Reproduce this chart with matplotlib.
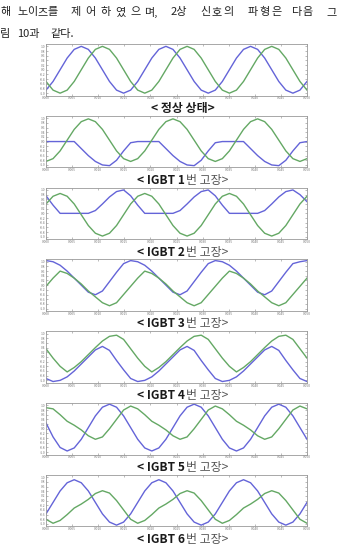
import numpy as np
import matplotlib
matplotlib.use("Agg")
import matplotlib.pyplot as plt

plt.rcParams['font.family'] = ['Noto Sans CJK KR', 'DejaVu Sans']

# ---------------- data ----------------
# sampling instants (s) across the 0 .. 0.05 s window
time_s = np.linspace(0.0, 0.05, 38)

# normal state
normal_a = [-0.87, -0.5, 0, 0.5, 0.87, 1, 0.87, 0.5, 0, -0.5, -0.87, -1,
            -0.87, -0.5, 0, 0.5, 0.87, 1, 0.87, 0.5, 0, -0.5, -0.87, -1,
            -0.87, -0.5, 0, 0.5, 0.87, 1, 0.87, 0.5, 0, -0.5, -0.87, -1,
            -0.87, -0.5]
normal_b = [-0.5, -0.87, -1, -0.87, -0.5, 0, 0.5, 0.87, 1, 0.87, 0.5, 0,
            -0.5, -0.87, -1, -0.87, -0.5, 0, 0.5, 0.87, 1, 0.87, 0.5, 0,
            -0.5, -0.87, -1, -0.87, -0.5, 0, 0.5, 0.87, 1, 0.87, 0.5, 0,
            -0.5, -0.87]
# IGBT 1 fault
igbt1_a = [0, 0, 0, 0, 0, -0.3, -0.6, -0.85, -1.0, -1.03, -0.8, -0.4,
           -0.05, 0, 0, 0, 0, -0.3, -0.6, -0.85, -1.0, -1.03, -0.8, -0.4,
           -0.05, 0, 0, 0, 0, -0.3, -0.6, -0.85, -1.0, -1.03, -0.8, -0.4,
           -0.05, 0]
igbt1_b = [-0.85, -0.73, -0.40, 0.06, 0.52, 0.85, 0.97, 0.85, 0.52, 0.06, -0.40, -0.73,
           -0.85, -0.73, -0.40, 0.06, 0.52, 0.85, 0.97, 0.85, 0.52, 0.06, -0.40, -0.73,
           -0.85, -0.73, -0.40, 0.06, 0.52, 0.85, 0.97, 0.85, 0.52, 0.06, -0.40, -0.73,
           -0.85, -0.73]
# IGBT 2 fault
igbt2_a = [0.75, 0.35, 0, 0, 0, 0, 0, 0.12, 0.4, 0.7, 0.93, 1.0,
           0.75, 0.35, 0, 0, 0, 0, 0, 0.12, 0.4, 0.7, 0.93, 1.0,
           0.75, 0.35, 0, 0, 0, 0, 0, 0.12, 0.4, 0.7, 0.93, 1.0,
           0.8, 0.5]
igbt2_b = [0.40, 0.73, 0.85, 0.73, 0.40, -0.06, -0.52, -0.85, -0.97, -0.85, -0.52, -0.06,
           0.40, 0.73, 0.85, 0.73, 0.40, -0.06, -0.52, -0.85, -0.97, -0.85, -0.52, -0.06,
           0.40, 0.73, 0.85, 0.73, 0.40, -0.06, -0.52, -0.85, -0.97, -0.85, -0.52, -0.06,
           0.40, 0.73]
# IGBT 3 fault
igbt3_a = [1.05, 1.0, 0.85, 0.6, 0.3, 0.0, -0.3, -0.41, -0.25, 0.15, 0.55, 0.92,
           1.05, 1.0, 0.85, 0.6, 0.3, 0.0, -0.3, -0.41, -0.25, 0.15, 0.55, 0.92,
           1.05, 1.0, 0.85, 0.6, 0.3, 0.0, -0.3, -0.41, -0.25, 0.15, 0.55, 0.92,
           1.0, 1.05]
igbt3_b = [-0.05, 0.3, 0.6, 0.5, 0.3, 0.05, -0.25, -0.5, -0.75, -0.88, -0.75, -0.4,
           -0.05, 0.3, 0.6, 0.5, 0.3, 0.05, -0.25, -0.5, -0.75, -0.88, -0.75, -0.4,
           -0.05, 0.3, 0.6, 0.5, 0.3, 0.05, -0.25, -0.5, -0.75, -0.88, -0.75, -0.4,
           -0.05, 0.3]
# IGBT 4 fault
igbt4_a = [-0.92, -1.05, -1.0, -0.85, -0.6, -0.3, 0.0, 0.3, 0.45, 0.28, -0.15, -0.55,
           -0.92, -1.05, -1.0, -0.85, -0.6, -0.3, 0.0, 0.3, 0.45, 0.28, -0.15, -0.55,
           -0.92, -1.05, -1.0, -0.85, -0.6, -0.3, 0.0, 0.3, 0.45, 0.28, -0.15, -0.55,
           -0.92, -1.05]
igbt4_b = [0.35, -0.05, -0.4, -0.64, -0.45, -0.2, 0.1, 0.4, 0.68, 0.88, 0.93, 0.75,
           0.35, -0.05, -0.4, -0.64, -0.45, -0.2, 0.1, 0.4, 0.68, 0.88, 0.93, 0.75,
           0.35, -0.05, -0.4, -0.64, -0.45, -0.2, 0.1, 0.4, 0.68, 0.88, 0.93, 0.75,
           0.35, -0.05]
# IGBT 5 fault
igbt5_a = [0.25, -0.35, -0.8, -0.95, -0.82, -0.45, 0.05, 0.55, 0.92, 1.05, 0.92, 0.55,
           0.05, -0.45, -0.82, -0.95, -0.82, -0.45, 0.05, 0.55, 0.92, 1.05, 0.92, 0.55,
           0.05, -0.45, -0.82, -0.95, -0.82, -0.45, 0.05, 0.55, 0.92, 1.05, 0.92, 0.55,
           0.05, -0.45]
igbt5_b = [0.9, 0.85, 0.6, 0.32, 0.15, -0.05, -0.3, -0.45, -0.35, 0.0, 0.4, 0.8,
           0.97, 0.85, 0.6, 0.32, 0.15, -0.05, -0.3, -0.45, -0.35, 0.0, 0.4, 0.8,
           0.97, 0.85, 0.6, 0.32, 0.15, -0.05, -0.3, -0.45, -0.35, 0.0, 0.4, 0.8,
           0.97, 0.85]
# IGBT 6 fault
igbt6_a = [-0.57, -0.08, 0.41, 0.76, 0.89, 0.76, 0.41, -0.08, -0.57, -0.92, -1.05, -0.92,
           -0.57, -0.08, 0.41, 0.76, 0.89, 0.76, 0.41, -0.08, -0.57, -0.92, -1.05, -0.92,
           -0.57, -0.08, 0.41, 0.76, 0.89, 0.76, 0.41, -0.08, -0.57, -0.92, -1.05, -0.92,
           -0.57, -0.08]
igbt6_b = [-0.8, -0.97, -0.85, -0.6, -0.32, -0.15, 0.05, 0.3, 0.42, 0.32, 0.0, -0.4,
           -0.8, -0.97, -0.85, -0.6, -0.32, -0.15, 0.05, 0.3, 0.42, 0.32, 0.0, -0.4,
           -0.8, -0.97, -0.85, -0.6, -0.32, -0.15, 0.05, 0.3, 0.42, 0.32, 0.0, -0.4,
           -0.8, -0.97]

series_a = [normal_a, igbt1_a, igbt2_a, igbt3_a, igbt4_a, igbt5_a, igbt6_a]
series_b = [normal_b, igbt1_b, igbt2_b, igbt3_b, igbt4_b, igbt5_b, igbt6_b]
caption_bold = ["< 정상 상태>", "< IGBT 1", "< IGBT 2", "< IGBT 3", "< IGBT 4", "< IGBT 5", "< IGBT 6"]
caption_rest = ["", "번 고장>", "번 고장>", "번 고장>", "번 고장>", "번 고장>", "번 고장>"]
x_ticks = [0, 0.005, 0.01, 0.015, 0.02, 0.025, 0.03, 0.035, 0.04, 0.045, 0.05]
y_ticks = [-1, -0.8, -0.6, -0.4, -0.2, 0, 0.2, 0.4, 0.6, 0.8, 1]

line1_words = ["해", "노이즈를", "제어하였으며,", "2상", "신호의", "파형은", "다음", "그"]
line2_words = ["림", "10과", "같다."]

# ---------------- layout ----------------
W, H = 338, 554
fig = plt.figure(figsize=(W / 100, H / 100), dpi=100)
fig.patch.set_facecolor("white")
renderer = fig.canvas.get_renderer()

pitch = 71.8
first_top = 44.0
panel_h = 51.5
x_left, x_right = 46, 307
cap_center = 183

BLUE = "#6464d8"
GREEN = "#64a864"

for i in range(7):
    top = first_top + pitch * i
    bot = top + panel_h
    ax = fig.add_axes([x_left / W, 1 - bot / H, (x_right - x_left) / W, panel_h / H])
    ax.plot(time_s, series_a[i], color=BLUE, lw=1.0)
    ax.plot(time_s, series_b[i], color=GREEN, lw=1.0)
    ax.set_xlim(0, 0.05)
    ax.set_ylim(-1.1, 1.1)
    ax.set_xticks(x_ticks)
    ax.set_yticks(y_ticks)
    ax.set_xticklabels([f"{v:.3f}" for v in x_ticks])
    ax.set_yticklabels([f"{v:.1f}" for v in y_ticks])
    ax.tick_params(direction="in", top=True, right=True, length=1.5, width=0.4,
                   labelsize=2.4, labelcolor="#777777", color="#888888", pad=0.6)
    for sp in ax.spines.values():
        sp.set_color("#999999")
        sp.set_linewidth(0.6)

    yb = 1 - (bot + 16.5) / H
    t1 = fig.text(0, yb, caption_bold[i], fontsize=8.6, fontweight="heavy",
                  color="#1a1a1a", va="baseline", ha="left")
    w1 = t1.get_window_extent(renderer).width
    if caption_rest[i]:
        t2 = fig.text(0, yb, caption_rest[i], fontsize=8.6, color="#555555",
                      va="baseline", ha="left")
        w2 = t2.get_window_extent(renderer).width
        gap = 1.0
        left = cap_center - (w1 + gap + w2) / 2
        t1.set_x(left / W)
        t2.set_x((left + w1 + gap) / W)
    else:
        t1.set_x((cap_center - w1 / 2) / W)

# top text: words spread over the measured spans (justified line)
line1_spans = [(0, 11), (17, 58), (68, 158), (168, 189), (200, 234), (247, 282), (290, 314), (326, 337)]
for wd, (s, e) in zip(line1_words, line1_spans):
    units = [wd] if wd in ("해", "2상", "그") else (
        ["제", "어", "하", "였", "으", "며,"] if wd.endswith(",") else list(wd))
    n = len(units)
    for j, u in enumerate(units):
        cx = s + (e - s) * (j + 0.5) / n
        fig.text(cx / W, 1 - 15.5 / H, u, fontsize=8.0, color="#222222",
                 va="baseline", ha="center")
line2_x = [0, 17, 50]
for wd, xx in zip(line2_words, line2_x):
    fig.text(xx / W, 1 - 37 / H, wd, fontsize=8.0, color="#222222", va="baseline", ha="left")

fig.savefig("out.png", dpi=100, facecolor="white")
